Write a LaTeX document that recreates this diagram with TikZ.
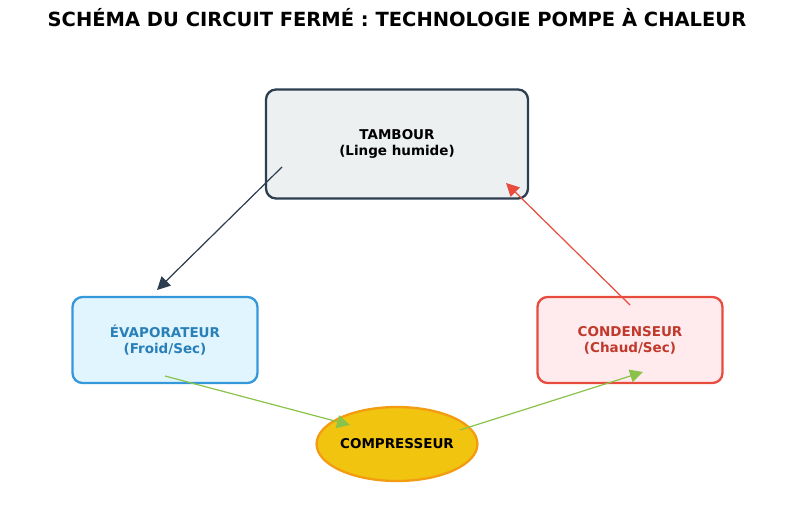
\documentclass[tikz,border=0pt]{standalone}
\usepackage{fontspec}
\setmainfont{DejaVu Sans}
\usepackage{tikz}
\usetikzlibrary{arrows.meta,positioning,shapes.geometric}
\definecolor{bordTambour}{HTML}{2C3E50}
\definecolor{fondTambour}{HTML}{ECF0F1}
\definecolor{bordEvap}{HTML}{3498DB}
\definecolor{fondEvap}{HTML}{E1F5FE}
\definecolor{texteEvap}{HTML}{2980B9}
\definecolor{bordCond}{HTML}{E74C3C}
\definecolor{fondCond}{HTML}{FFEBEE}
\definecolor{texteCond}{HTML}{C0392B}
\definecolor{fondComp}{HTML}{F1C40F}
\definecolor{bordComp}{HTML}{F39C12}
\definecolor{vertFleche}{HTML}{8BC34A}
\tikzset{
  boite/.style={rectangle,rounded corners=10pt,line width=2.3pt,align=center,font=\bfseries\fontsize{13.5}{16}\selectfont},
  fleche/.style={-{Triangle[length=13pt,width=13pt]},line width=1.2pt}
}
\begin{document}
\begin{tikzpicture}[x=1pt,y=-1pt]
\useasboundingbox (0,0) rectangle (794,524);
\node[font=\bfseries\fontsize{19.5}{22}\selectfont] (titre) at (397,18) {SCHÉMA DU CIRCUIT FERMÉ : TECHNOLOGIE POMPE À CHALEUR};
\node[boite,draw=bordTambour,fill=fondTambour,minimum width=262pt,minimum height=109pt] (tambour) at (397,144) {TAMBOUR\\(Linge humide)};
\node[boite,draw=bordEvap,fill=fondEvap,text=texteEvap,minimum width=185pt,minimum height=86pt] (evap) at (165,340) {ÉVAPORATEUR\\(Froid/Sec)};
\node[boite,draw=bordCond,fill=fondCond,text=texteCond,minimum width=185pt,minimum height=86pt] (cond) at (630,340) {CONDENSEUR\\(Chaud/Sec)};
\node[ellipse,draw=bordComp,fill=fondComp,line width=2.3pt,minimum width=124pt,minimum height=74pt,inner sep=0pt,font=\bfseries\fontsize{13.5}{16}\selectfont] (comp) at (397,444) {COMPRESSEUR};
% points de depart et d'arrivee
\coordinate (a1) at (282,167); \coordinate (a2) at (157,290);
\coordinate (b1) at (165,376); \coordinate (b2) at (350,425);
\coordinate (c1) at (460,430); \coordinate (c2) at (643,372);
\coordinate (d1) at (630,305); \coordinate (d2) at (506,183);
\draw[fleche,draw=bordTambour,fill=bordTambour] (a1) -- (a2);
\draw[fleche,draw=vertFleche,fill=vertFleche] (b1) -- (b2);
\draw[fleche,draw=vertFleche,fill=vertFleche] (c1) -- (c2);
\draw[fleche,draw=bordCond,fill=bordCond] (d1) -- (d2);
\end{tikzpicture}
\end{document}
